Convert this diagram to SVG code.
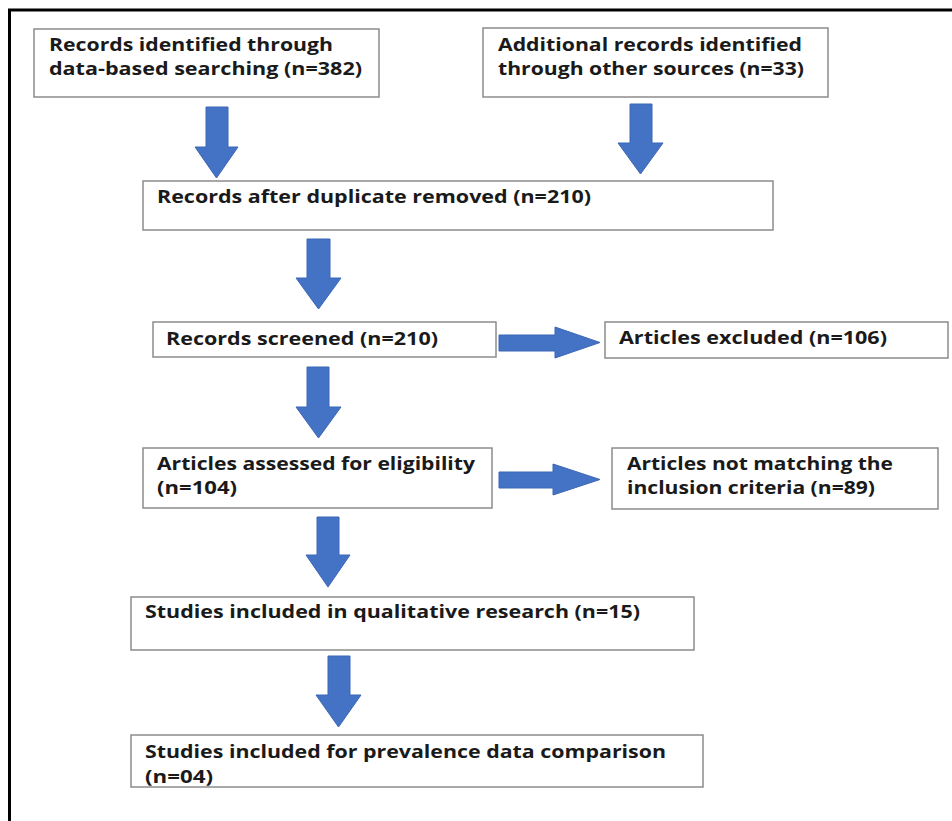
<svg xmlns="http://www.w3.org/2000/svg" width="952" height="821" viewBox="0 0 952 821">
<style>
.box{fill:#fff;stroke:#8c8c8c;stroke-width:1.5}
.t{font-family:"Open Sans","Noto Sans","Liberation Sans",sans-serif;font-weight:700;font-size:17px;fill:#1a1a1a}
.arr{fill:#4472c4;stroke:#3d67b6;stroke-width:1}
.frame{stroke:#000;stroke-width:3;fill:none}
</style>
<rect width="952" height="821" fill="#fff"/>
<path class="frame" d="M9.5,821 V10 H952"/>
<g id="connectors">
<path class="arr" d="M206,107 H228 V147 H238 L216.5,178 L195,147 H206 Z"/>
<path class="arr" d="M630,104 H652 V143 H663 L640.5,174 L618,143 H630 Z"/>
<path class="arr" d="M307,239 H330 V278 H341 L318.5,309 L296,278 H307 Z"/>
<path class="arr" d="M307,367 H329 V407 H341 L318.5,438 L296,407 H307 Z"/>
<path class="arr" d="M317,517 H339 V555 H350 L328,587 L306,555 H317 Z"/>
<path class="arr" d="M328,656 H350 V695 H361 L338.5,727 L316,695 H328 Z"/>
<path class="arr" d="M499,335 H555 V327 L600,342.5 L555,358 V351 H499 Z"/>
<path class="arr" d="M499,472 H553 V464 L600,479.5 L553,495 V488 H499 Z"/>
</g>
<g id="n1">
<rect class="box" x="34" y="29" width="345" height="68"/>
<text class="t" x="49" y="51" textLength="284" lengthAdjust="spacingAndGlyphs">Records identified through</text>
<text class="t" x="49" y="75" textLength="313" lengthAdjust="spacingAndGlyphs">data-based searching (n=382)</text>
</g>
<g id="n2">
<rect class="box" x="483" y="28" width="345" height="69"/>
<text class="t" x="498" y="51" textLength="304" lengthAdjust="spacingAndGlyphs">Additional records identified</text>
<text class="t" x="498" y="75" textLength="306" lengthAdjust="spacingAndGlyphs">through other sources (n=33)</text>
</g>
<g id="n3">
<rect class="box" x="143" y="181" width="630" height="49"/>
<text class="t" x="157" y="203" textLength="434" lengthAdjust="spacingAndGlyphs">Records after duplicate removed (n=210)</text>
</g>
<g id="n4">
<rect class="box" x="153" y="322" width="343" height="35"/>
<text class="t" x="166" y="345" textLength="272" lengthAdjust="spacingAndGlyphs">Records screened (n=210)</text>
</g>
<g id="n5">
<rect class="box" x="605" y="322" width="343" height="36"/>
<text class="t" x="619" y="344" textLength="268" lengthAdjust="spacingAndGlyphs">Articles excluded (n=106)</text>
</g>
<g id="n6">
<rect class="box" x="143" y="448" width="349" height="60"/>
<text class="t" x="157" y="470" textLength="318" lengthAdjust="spacingAndGlyphs">Articles assessed for eligibility</text>
<text class="t" x="157" y="494" textLength="80" lengthAdjust="spacingAndGlyphs">(n=104)</text>
</g>
<g id="n7">
<rect class="box" x="612" y="448" width="326" height="61"/>
<text class="t" x="627" y="470" textLength="266" lengthAdjust="spacingAndGlyphs">Articles not matching the</text>
<text class="t" x="627" y="494" textLength="248" lengthAdjust="spacingAndGlyphs">inclusion criteria (n=89)</text>
</g>
<g id="n8">
<rect class="box" x="131" y="597" width="563" height="53"/>
<text class="t" x="145" y="618" textLength="495" lengthAdjust="spacingAndGlyphs">Studies included in qualitative research (n=15)</text>
</g>
<g id="n9">
<rect class="box" x="131" y="735" width="572" height="52"/>
<text class="t" x="145" y="758" textLength="521" lengthAdjust="spacingAndGlyphs">Studies included for prevalence data comparison</text>
<text class="t" x="145" y="783" textLength="68" lengthAdjust="spacingAndGlyphs">(n=04)</text>
</g>
</svg>
